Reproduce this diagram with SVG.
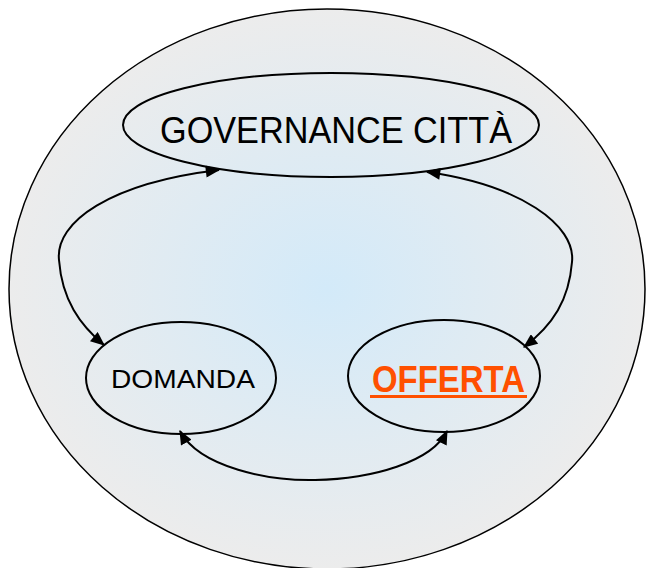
<svg xmlns="http://www.w3.org/2000/svg" width="646" height="568" viewBox="0 0 646 568">
<defs>
<radialGradient id="bg" cx="0.5" cy="0.5" r="0.5">
<stop offset="0" stop-color="#d3eaf9"/>
<stop offset="1" stop-color="#ececec"/>
</radialGradient>
<marker id="ah" viewBox="0 0 12 10" refX="11" refY="5" markerWidth="15" markerHeight="12" markerUnits="userSpaceOnUse" orient="auto-start-reverse">
<path d="M0,0 L12,5 L0,10 Z" fill="#000"/>
</marker>
<style>
.node{fill:none;stroke:#000;stroke-width:2}
.conn{fill:none;stroke:#000;stroke-width:2;marker-start:url(#ah);marker-end:url(#ah)}
.lbl{font-family:"Liberation Sans",Arial,sans-serif;fill:#000}
</style>
</defs>
<rect width="646" height="568" fill="#fff"/>
<g id="container">
<ellipse cx="327" cy="289" rx="318" ry="280" fill="url(#bg)" stroke="#000" stroke-width="1.5"/>
</g>
<g id="governance">
<ellipse class="node" cx="331" cy="125" rx="208" ry="52"/>
<text class="lbl" x="160" y="143" font-size="36" textLength="352" lengthAdjust="spacingAndGlyphs">GOVERNANCE CITTÀ</text>
</g>
<g id="domanda">
<ellipse class="node" cx="181" cy="378" rx="95" ry="56"/>
<text class="lbl" x="111" y="388" font-size="26" textLength="144" lengthAdjust="spacingAndGlyphs">DOMANDA</text>
</g>
<g id="offerta">
<ellipse class="node" cx="444" cy="376" rx="96" ry="56"/>
<text x="372" y="392" font-family="Liberation Sans,Arial,sans-serif" font-weight="bold" font-size="36" fill="#ff5000" textLength="153" lengthAdjust="spacingAndGlyphs">OFFERTA</text>
<rect x="370" y="395" width="157" height="3" fill="#ff5000"/>
</g>
<g id="connectors">
<path class="conn" d="M219,170 C110,183 55,222 59,260 C62,300 80,325 104,345"/>
<path class="conn" d="M427,172 C520,185 576,225 572,262 C569,300 553,325 524,347"/>
<path class="conn" d="M180,431 C200,468 270,481 315,480 C372,479 432,462 447,431"/>
</g>
</svg>
